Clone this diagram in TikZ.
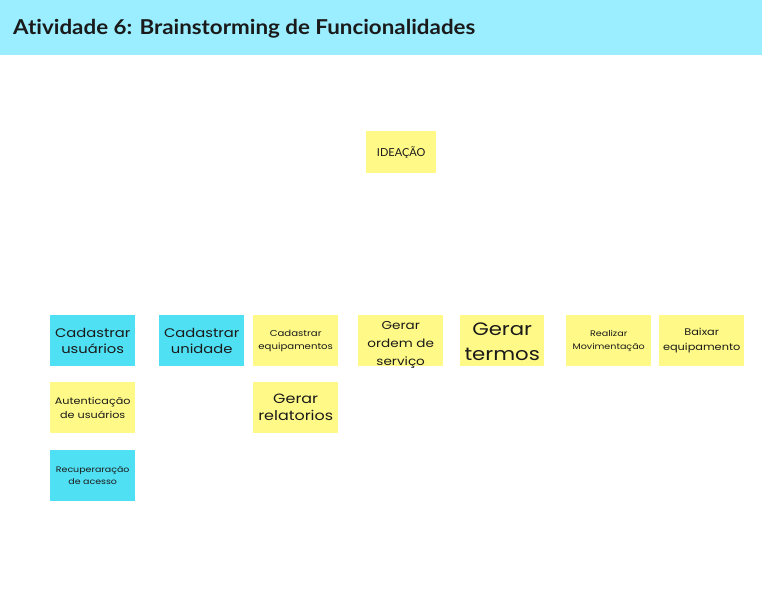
\documentclass[tikz,border=0pt]{standalone}
\usepackage{fontspec}
\setmainfont{Poppins}[FakeStretch=1.18]
\newfontfamily\titlefont{Lato}[Ligatures=NoCommon,FakeStretch=1.09]
\newfontfamily\labelfont{Lato}
\definecolor{hdr}{HTML}{9BEEFF}
\definecolor{ynote}{HTML}{FFFA87}
\definecolor{cnote}{HTML}{50E0F4}
\definecolor{ink}{HTML}{1A1A1A}
\tikzset{
  note/.style={inner sep=0pt, minimum width=85pt, minimum height=51pt, align=center, text=ink, anchor=north west},
  ynotebox/.style={note, fill=ynote},
  cnotebox/.style={note, fill=cnote},
  notetext/.style={inner sep=0pt, align=center, text=ink},
}
\begin{document}
\begin{tikzpicture}[x=1pt,y=-1pt]
\useasboundingbox[fill=white] (0,0) rectangle (762,607);
\fill[hdr] (0,0) rectangle (762,55);
\node[anchor=base west, inner sep=0pt, font=\titlefont\bfseries\fontsize{20.5}{22}\selectfont, text=ink] (title) at (13,35) {Atividade 6: Brainstorming de Funcionalidades};

\node[ynotebox, minimum width=70pt, minimum height=42pt, font=\labelfont\fontsize{11}{12}\selectfont] (ideacao) at (366,131) {IDEAÇÃO};

\node[cnotebox, font=\fontsize{12.5}{16}\selectfont] (cadusu) at (50,315) {Cadastrar\\usuários};
\node[cnotebox, font=\fontsize{12.5}{16}\selectfont] (caduni) at (159,315) {Cadastrar\\unidade};
\node[ynotebox, font=\fontsize{8.6}{13}\selectfont] (cadequ) at (253,315) {Cadastrar\\equipamentos};
\node[ynotebox] (gerord) at (358,315) {};
\node[notetext, font=\fontsize{11.5}{18}\selectfont] (gerordtext) at ([yshift=-4.5pt]gerord.center) {Gerar\\ordem de\\serviço};
\node[ynotebox, minimum width=84pt] (gerter) at (460,315) {};
\node[notetext, font=\fontsize{18}{25}\selectfont] (gertertext) at ([yshift=-1.5pt]gerter.center) {Gerar\\termos};
\node[ynotebox, font=\fontsize{8.1}{13}\selectfont] (realmov) at (566,315) {Realizar\\Movimentação};
\node[ynotebox, font=\fontsize{9.6}{15}\selectfont] (baixeq) at (659,315) {Baixar\\equipamento};

\node[ynotebox, font=\fontsize{9.5}{14}\selectfont] (autusu) at (50,382) {Autenticação\\de usuários};
\node[ynotebox, font=\fontsize{13.5}{17}\selectfont] (gerrel) at (253,382) {Gerar\\relatorios};
\node[cnotebox, font=\fontsize{8}{11.5}\selectfont] (recace) at (50,450) {Recuperaração\\de acesso};
\end{tikzpicture}
\end{document}
